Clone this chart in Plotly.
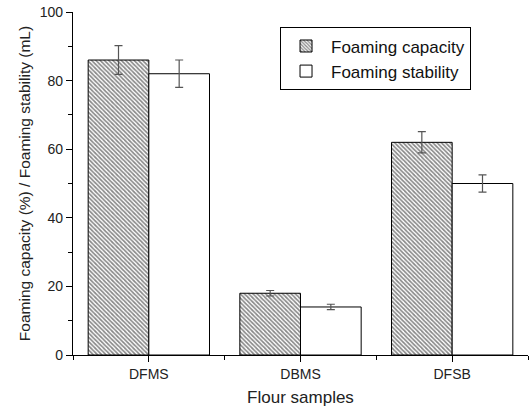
import plotly.graph_objects as go

# Foaming properties of three flour samples
samples = ["DFMS", "DBMS", "DFSB"]
capacity = [86, 18, 62]
capacity_err = [4.2, 0.8, 3.1]
stability = [82, 14, 50]
stability_err = [4.0, 0.8, 2.5]

xpos = list(range(len(samples)))

fig = go.Figure()
fig.add_trace(go.Bar(
    x=xpos, y=capacity, name="Foaming capacity",
    marker=dict(color="white", line=dict(color="black", width=1),
                pattern=dict(shape="\\", size=3, solidity=0.55,
                             fgcolor="#111111", bgcolor="white")),
    error_y=dict(type="data", array=capacity_err, color="#555555",
                 thickness=1.2, width=4),
))
fig.add_trace(go.Bar(
    x=xpos, y=stability, name="Foaming stability",
    marker=dict(color="white", line=dict(color="black", width=1)),
    error_y=dict(type="data", array=stability_err, color="#555555",
                 thickness=1.2, width=4),
))

font = "Liberation Sans, Arial, sans-serif"
fig.update_layout(
    width=530, height=411,
    margin=dict(l=73, r=2, t=12, b=56),
    paper_bgcolor="white", plot_bgcolor="white",
    barmode="group", bargap=0.2, bargroupgap=0.0,
    font=dict(family=font, size=14, color="#222222"),
    showlegend=True,
    legend=dict(x=0.455, y=0.955, xanchor="left", yanchor="top",
                bgcolor="white", bordercolor="black", borderwidth=1,
                font=dict(size=17, color="#111111"),
                tracegroupgap=0, itemwidth=40),
)
fig.update_xaxes(
    range=[-0.5, 2.5], tickmode="array", tickvals=xpos, ticktext=samples,
    showgrid=False, zeroline=False, showline=True, linecolor="black",
    linewidth=1.2, ticks="outside", ticklen=6, tickcolor="black",
    minor=dict(ticks="outside", ticklen=4, tick0=0.5, dtick=1.0,
               tickcolor="black", showgrid=False),
    title=dict(text="Flour samples", font=dict(size=17), standoff=10),
    tickfont=dict(size=14),
)
fig.update_yaxes(
    range=[0, 100], tickmode="linear", tick0=0, dtick=20,
    showgrid=False, zeroline=False, showline=True, linecolor="black",
    linewidth=1.2, ticks="outside", ticklen=6, tickcolor="black",
    minor=dict(ticks="outside", ticklen=4, tick0=10, dtick=20,
               tickcolor="black", showgrid=False),
    title=dict(text="Foaming capacity (%) / Foaming stability (mL)",
               font=dict(size=15.5), standoff=5),
    tickfont=dict(size=14),
)

fig.write_html("out.html")
